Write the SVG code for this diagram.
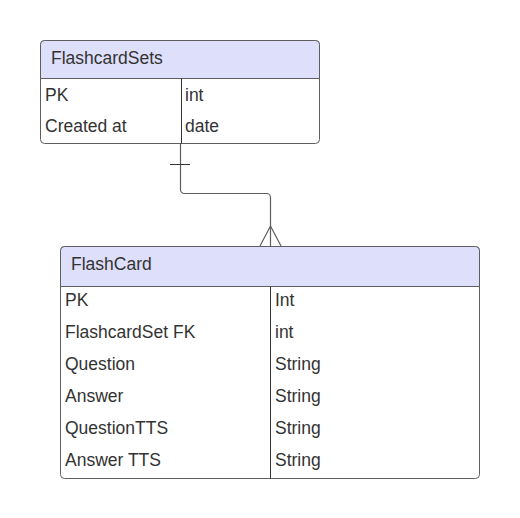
<svg xmlns="http://www.w3.org/2000/svg" width="520" height="518" viewBox="0 0 520 518">
<style>
.box{fill:#ffffff;stroke:#5e5e5e;stroke-width:1}
.hdr{fill:#dedffa;stroke:#5e5e5e;stroke-width:1}
.ln{stroke:#333;stroke-width:1;fill:none}
text{font-family:"Liberation Sans",Arial,sans-serif;font-size:17.5px;fill:#333}
.conn{stroke:#5e5e5e;stroke-width:1.2;fill:none}
</style>
<rect width="520" height="518" fill="#ffffff"/>
<g id="FlashcardSets">
<rect class="box" x="40.5" y="40.5" width="279" height="103" rx="4"/>
<path class="hdr" d="M40.5 78.5 V44.5 a4 4 0 0 1 4 -4 H315.5 a4 4 0 0 1 4 4 V78.5 Z"/>
<line class="ln" x1="181.5" y1="78.5" x2="181.5" y2="143.5"/>
<text x="51" y="63.5">FlashcardSets</text>
<text x="45" y="100.5">PK</text>
<text x="185" y="100.5">int</text>
<text x="45" y="132">Created at</text>
<text x="185" y="132">date</text>
</g>
<g id="FlashCard">
<rect class="box" x="60.5" y="246.5" width="419" height="232" rx="4"/>
<path class="hdr" d="M60.5 286.5 V250.5 a4 4 0 0 1 4 -4 H475.5 a4 4 0 0 1 4 4 V286.5 Z"/>
<line class="ln" x1="270.5" y1="286.5" x2="270.5" y2="478.5"/>
<text x="71" y="270">FlashCard</text>
<text x="65" y="306">PK</text>
<text x="275" y="306">Int</text>
<text x="65" y="338">FlashcardSet FK</text>
<text x="275" y="338">int</text>
<text x="65" y="370">Question</text>
<text x="275" y="370">String</text>
<text x="65" y="402">Answer</text>
<text x="275" y="402">String</text>
<text x="65" y="434">QuestionTTS</text>
<text x="275" y="434">String</text>
<text x="65" y="466">Answer TTS</text>
<text x="275" y="466">String</text>
</g>
<g id="connectors">
<path class="conn" d="M180.5 143.5 V189.5 a4 4 0 0 0 4 4 H266.5 a4 4 0 0 1 4 4 V246"/>
<line class="ln" x1="170" y1="164.5" x2="190" y2="164.5"/>
<path class="conn" d="M260 246 L270.5 226 L281 246"/>
</g>
</svg>
